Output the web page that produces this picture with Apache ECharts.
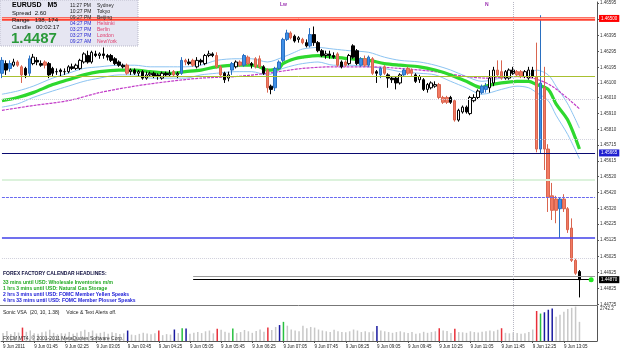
<!DOCTYPE html>
<html>
<head>
<meta charset="utf-8">
<script src="https://cdn.jsdelivr.net/npm/echarts@6.0.0/dist/echarts.min.js"></script>
<style>
  html, body { margin: 0; padding: 0; background: #fff; }
  #main { width: 625px; height: 352px; }
</style>
</head>
<body>
<div id="main"></div>
<script>
// EURUSD M5, 9 Jun 2011 - bar 0 = 01:05, one bar every 5 min
var opens = [
  1.4616,1.4622,1.4619,1.4621,1.4623,1.4620,1.4619,1.4616,1.4622,1.4624,
  1.4622,1.4623,1.4622,1.4619,1.4617,1.4618,1.4617,1.4617,1.4620,1.4619,
  1.4619,1.4623,1.4627,1.4623,1.4628,1.4627,1.4628,1.4627,1.4627,1.4625,
  1.4623,1.4621,1.4621,1.4617,1.4618,1.4616,1.4617,1.4613,1.4615,1.4616,
  1.4615,1.4613,1.4616,1.4615,1.4617,1.4615,1.4616,1.4624,1.4623,1.4624,
  1.4620,1.4624,1.4622,1.4627,1.4628,1.4627,1.4620,1.4616,1.4613,1.4618,
  1.4620,1.4623,1.4621,1.4626,1.4622,1.4625,1.4625,1.4620,1.4618,1.4608,
  1.4607,1.4619,1.4624,1.4637,1.4641,1.4639,1.4637,1.4637,1.4635,1.4633,
  1.4640,1.4635,1.4630,1.4627,1.4628,1.4627,1.4628,1.4623,1.4623,1.4622,
  1.4633,1.4630,1.4621,1.4625,1.4621,1.4625,1.4617,1.4615,1.4620,1.4615,
  1.4613,1.4613,1.4610,1.4615,1.4619,1.4618,1.4615,1.4612,1.4612,1.4606,
  1.4607,1.4608,1.4609,1.4601,1.4601,1.4601,1.4599,1.4587,1.4592,1.4595,
  1.4591,1.4599,1.4601,1.4604,1.4606,1.4607,1.4610,1.4618,1.4617,1.4613,
  1.4613,1.4618,1.4617,1.4617,1.4614,1.4613,1.4618,1.4614,1.4569,1.4607,
  1.4569,1.4540,1.4538,1.4532,1.4538,1.4532,1.4520,1.4500,1.4493
];
var highs = [
  1.4626,1.4624,1.4624,1.4625,1.4624,1.4621,1.4620,1.4627,1.4628,1.4626,
  1.4624,1.4624,1.4623,1.4620,1.4619,1.4619,1.4619,1.4621,1.4622,1.4622,
  1.4625,1.4629,1.4630,1.4630,1.4630,1.4629,1.4632,1.4628,1.4628,1.4626,
  1.4624,1.4622,1.4622,1.4619,1.4619,1.4618,1.4618,1.4617,1.4617,1.4617,
  1.4616,1.4617,1.4617,1.4618,1.4618,1.4617,1.4626,1.4625,1.4625,1.4625,
  1.4626,1.4625,1.4628,1.4630,1.4629,1.4629,1.4621,1.4617,1.4617,1.4623,
  1.4624,1.4624,1.4628,1.4627,1.4623,1.4626,1.4627,1.4621,1.4619,1.4609,
  1.4620,1.4624,1.4638,1.4643,1.4642,1.4640,1.4639,1.4638,1.4637,1.4644,
  1.4645,1.4636,1.4631,1.4630,1.4630,1.4629,1.4629,1.4624,1.4624,1.4628,
  1.4634,1.4631,1.4626,1.4627,1.4627,1.4626,1.4618,1.4620,1.4621,1.4616,
  1.4614,1.4614,1.4616,1.4619,1.4620,1.4619,1.4616,1.4615,1.4613,1.4610,
  1.4611,1.4611,1.4610,1.4602,1.4602,1.4602,1.4600,1.4594,1.4596,1.4596,
  1.4602,1.4603,1.4606,1.4609,1.4610,1.4618,1.4620,1.4624,1.4624,1.4618,
  1.4619,1.4620,1.4618,1.4618,1.4618,1.4620,1.4620,1.4635,1.4652,1.4620,
  1.4572,1.4548,1.4540,1.4539,1.4541,1.4533,1.4526,1.4501,1.4494
];
var lows = [
  1.4613,1.4615,1.4617,1.4620,1.4620,1.4610,1.4613,1.4614,1.4621,1.4621,
  1.4620,1.4619,1.4613,1.4614,1.4615,1.4614,1.4615,1.4616,1.4618,1.4618,
  1.4618,1.4622,1.4622,1.4622,1.4626,1.4625,1.4625,1.4624,1.4623,1.4621,
  1.4620,1.4619,1.4615,1.4615,1.4615,1.4614,1.4612,1.4612,1.4614,1.4613,
  1.4612,1.4612,1.4614,1.4614,1.4614,1.4613,1.4615,1.4621,1.4621,1.4620,
  1.4619,1.4621,1.4621,1.4626,1.4626,1.4619,1.4614,1.4610,1.4611,1.4615,
  1.4619,1.4620,1.4620,1.4621,1.4619,1.4619,1.4619,1.4615,1.4604,1.4603,
  1.4605,1.4618,1.4623,1.4636,1.4637,1.4635,1.4635,1.4634,1.4632,1.4632,
  1.4633,1.4629,1.4626,1.4625,1.4625,1.4625,1.4620,1.4619,1.4620,1.4621,
  1.4625,1.4621,1.4620,1.4620,1.4620,1.4615,1.4610,1.4613,1.4615,1.4607,
  1.4610,1.4606,1.4609,1.4614,1.4615,1.4614,1.4610,1.4610,1.4605,1.4604,
  1.4606,1.4607,1.4600,1.4597,1.4597,1.4597,1.4586,1.4586,1.4591,1.4591,
  1.4590,1.4598,1.4600,1.4603,1.4604,1.4604,1.4608,1.4614,1.4612,1.4612,
  1.4612,1.4615,1.4614,1.4613,1.4613,1.4612,1.4613,1.4567,1.4566,1.4556,
  1.4530,1.4525,1.4523,1.4514,1.4530,1.4517,1.4499,1.4491,1.4477
];
var closes = [
  1.4624,1.4618,1.4622,1.4623,1.4621,1.4615,1.4615,1.4625,1.4626,1.4623,
  1.4621,1.4621,1.4615,1.4616,1.4617,1.4617,1.4617,1.4620,1.4619,1.4621,
  1.4624,1.4628,1.4623,1.4629,1.4627,1.4628,1.4627,1.4626,1.4624,1.4622,
  1.4621,1.4620,1.4616,1.4618,1.4616,1.4617,1.4613,1.4615,1.4616,1.4614,
  1.4614,1.4616,1.4615,1.4616,1.4615,1.4616,1.4624,1.4623,1.4622,1.4621,
  1.4624,1.4623,1.4627,1.4628,1.4627,1.4620,1.4615,1.4612,1.4615,1.4622,
  1.4623,1.4621,1.4627,1.4622,1.4621,1.4620,1.4620,1.4616,1.4607,1.4606,
  1.4619,1.4623,1.4637,1.4641,1.4638,1.4636,1.4638,1.4635,1.4633,1.4640,
  1.4635,1.4630,1.4627,1.4628,1.4627,1.4626,1.4621,1.4620,1.4621,1.4627,
  1.4626,1.4622,1.4625,1.4621,1.4626,1.4616,1.4616,1.4619,1.4616,1.4613,
  1.4612,1.4610,1.4615,1.4618,1.4616,1.4616,1.4611,1.4614,1.4606,1.4609,
  1.4610,1.4609,1.4601,1.4598,1.4598,1.4598,1.4587,1.4593,1.4595,1.4592,
  1.4601,1.4601,1.4605,1.4608,1.4608,1.4613,1.4618,1.4615,1.4613,1.4617,
  1.4618,1.4616,1.4615,1.4614,1.4617,1.4618,1.4614,1.4569,1.4610,1.4569,
  1.4539,1.4531,1.4531,1.4538,1.4532,1.4519,1.4500,1.4492,1.4488
];
// VSA volume
var volumes = [
  620,780,540,700,660,1050,720,830,610,560,
  690,740,880,640,520,610,580,700,560,640,
  760,880,700,820,590,640,720,560,680,620,
  540,600,820,500,460,560,640,580,520,600,
  820,460,540,500,900,620,1000,980,560,640,
  700,620,760,820,600,950,880,720,640,980,
  620,700,860,760,640,780,900,720,1050,860,
  1100,1250,1500,1200,900,820,760,1200,1000,1100,
  1050,900,820,760,700,880,760,700,680,760,
  900,820,700,760,680,740,1170,820,760,700,
  640,700,760,680,620,700,560,600,720,640,
  700,760,1000,820,780,620,950,700,680,640,
  760,700,660,720,760,820,760,880,1000,640,
  600,680,620,560,600,700,900,2350,2150,2250,
  2450,2550,1900,2050,2300,2500,2600,2700,1500
];
// candle signal colouring
var blueCandles = [0,2,7,46,59,62,70,71,72,73,79,92,94,97,103,123,124,138,143];
var redCandles = [4,5,11,32,44,47,49,55,56,61,63,65,66,68,74,77,86,88,93,95,98,104,105,112,113,114,116,127,128,132,133,137,139,140,141,142,144,145,146,147];
// volume signal colouring
var redVol = [5,40,55,68,112,116,128,137];
var blueVol = [32,44,47,71,96,139,140,141];
var greenVol = [46,59,72,138];

// moving average + envelopes, [bar, price]
var maGreen = [[0,1.4599],[4,1.4601],[8,1.4604],[13,1.4609],[17,1.4612],[21,1.4615],[25,1.4617],[30,1.4618],[34,1.4618],[38,1.4617],[43,1.4616],[47,1.4617],[51,1.4618],[55,1.4620],[60,1.4621],[64,1.4621],[66,1.4620],[68,1.4618],[71,1.4619],[72,1.4622],[75,1.4625],[77,1.4626],[81,1.4627],[85,1.4626],[89,1.4625],[94,1.4624],[98,1.4622],[102,1.4621],[107,1.4620],[111,1.4618],[115,1.4615],[119,1.4611],[123,1.4607],[124,1.4608],[128,1.4610],[132,1.4611],[135,1.4611],[137,1.4609],[140,1.4606],[142,1.4597],[145,1.4587],[148,1.4569]];
var envUpper = [[0,1.4603],[4,1.4605],[8,1.4608],[13,1.4613],[17,1.4616],[21,1.4619],[25,1.4620],[30,1.4621],[34,1.4621],[38,1.4620],[43,1.4620],[47,1.4620],[51,1.4621],[55,1.4624],[60,1.4625],[64,1.4625],[68,1.4623],[72,1.4626],[75,1.4629],[77,1.4631],[81,1.4632],[85,1.4631],[89,1.4630],[94,1.4629],[98,1.4626],[102,1.4624],[107,1.4623],[111,1.4621],[115,1.4618],[119,1.4614],[123,1.4611],[128,1.4613],[132,1.4614],[135,1.4615],[137,1.4618],[140,1.4615],[142,1.4608],[145,1.4597],[148,1.4582]];
var envLower = [[0,1.4595],[4,1.4597],[8,1.4601],[13,1.4605],[17,1.4608],[21,1.4611],[25,1.4613],[30,1.4615],[34,1.4615],[38,1.4613],[43,1.4613],[47,1.4613],[51,1.4615],[55,1.4616],[60,1.4617],[64,1.4617],[68,1.4615],[72,1.4619],[75,1.4621],[77,1.4622],[81,1.4623],[85,1.4621],[89,1.4621],[94,1.4620],[98,1.4619],[102,1.4617],[107,1.4616],[111,1.4615],[115,1.4611],[119,1.4607],[123,1.4603],[128,1.4606],[132,1.4608],[135,1.4607],[137,1.4604],[140,1.4599],[142,1.4590],[145,1.4578],[148,1.4563]];
var maSlow = [[0,1.4593],[8,1.4596],[17,1.4599],[25,1.4604],[34,1.4608],[43,1.4611],[51,1.4613],[60,1.4614],[68,1.4616],[77,1.4619],[85,1.4620],[94,1.4620],[102,1.4619],[111,1.4617],[119,1.4614],[124,1.4613],[131,1.4614],[136,1.4613],[141,1.4608],[148,1.4594]];

var priceTicks = [1.46595,1.46495,1.46395,1.46295,1.46195,1.46100,1.46010,1.45910,1.45810,1.45715,1.45615,1.45520,1.45420,1.45320,1.45225,1.45125,1.45025,1.44925,1.44825,1.44725];
var timeLabels = ['9 Jun 2011','9 Jun 01:45','9 Jun 02:25','9 Jun 03:05','9 Jun 03:45','9 Jun 04:25','9 Jun 05:05','9 Jun 05:45','9 Jun 06:25','9 Jun 07:05','9 Jun 07:45','9 Jun 08:25','9 Jun 09:05','9 Jun 09:45','9 Jun 10:25','9 Jun 11:05','9 Jun 11:45','9 Jun 12:25','9 Jun 13:05'];

// levels drawn on the chart
var dayHigh = 1.4650, pivotLine = 1.4614, navyLine = 1.45666, bidPrice = 1.4488;
var dotLevels = [1.4600, 1.4575, 1.4501];
var greenLevel = 1.4550, blueDashed = 1.4539, blueSolid = 1.4514, grayLevel = 1.4490;
var sessionBar = '131';
var volMax = 2742.2;

var FONT = '"Liberation Sans", Arial, sans-serif';
var barCount = opens.length;
var lastCat = 152;
var cats = [];
for (var i = 0; i <= lastCat; i++) cats.push(String(i));

function inList(list, i) { return list.indexOf(i) >= 0; }

var candleData = opens.map(function (o, i) {
  var item = { value: [o, closes[i], lows[i], highs[i]] };
  if (inList(blueCandles, i)) {
    item.itemStyle = { color: '#3f8fe6', color0: '#3f8fe6', borderColor: '#2a6fc0', borderColor0: '#2a6fc0' };
  } else if (inList(redCandles, i)) {
    item.itemStyle = { color: '#f27a62', color0: '#f27a62', borderColor: '#d9654f', borderColor0: '#d9654f' };
  }
  return item;
});

var volData = volumes.map(function (v, i) {
  var c = '#c8c8c8';
  if (inList(redVol, i)) c = '#e8303a';
  else if (inList(blueVol, i)) c = '#1a1aa0';
  else if (inList(greenVol, i)) c = '#28c040';
  return { value: v, itemStyle: { color: c } };
});

var chart = echarts.init(document.getElementById('main'), null, { renderer: 'canvas' });

function tagLabel(txt, bg) {
  return { show: true, position: 'end', formatter: txt, backgroundColor: bg, color: '#fff',
    fontSize: 4.5, fontFamily: FONT, padding: [1, 2], distance: 4 };
}
// horizontal level across the whole price window
function level(v, style, label) {
  var a = { coord: [0, v], lineStyle: style };
  if (label) a.label = label;
  return [a, { coord: [lastCat, v] }];
}

var levelLines = [
  level(dayHigh, { color: '#ff4030', width: 3.5, type: 'solid' }),
  level(dayHigh, { color: '#ffb0a0', width: 1, type: 'solid' }, tagLabel('1.46500', '#ff0000')),
  level(pivotLine, { color: '#a8c030', width: 1, type: 'solid' }),
  level(dotLevels[0], { color: '#d0d0dc', width: 1, type: 'dotted' }),
  level(dotLevels[1], { color: '#d0d0dc', width: 1, type: 'dotted' }),
  level(dotLevels[2], { color: '#d0d0dc', width: 1, type: 'dotted' }),
  level(navyLine, { color: '#0a0a70', width: 1.2, type: 'solid' }, tagLabel('1.45665', '#2020d0')),
  level(greenLevel, { color: '#dcf2dc', width: 2, type: 'solid' }),
  level(blueDashed, { color: '#6a6af0', width: 1, type: [3, 1] }),
  level(blueSolid, { color: '#4040e8', width: 1.5, type: 'solid' }),
  level(bidPrice, { color: 'rgba(0,0,0,0)', width: 1 }, tagLabel('1.44870', '#000000')),
  [{ coord: [49, grayLevel], lineStyle: { color: '#9a9a9a', width: 1, type: 'solid' } }, { coord: [lastCat, grayLevel] }],
  [{ coord: [49, bidPrice], lineStyle: { color: '#000000', width: 1.2, type: 'solid' } }, { coord: [151, bidPrice] }],
  { xAxis: sessionBar, lineStyle: { color: '#b8b8c4', width: 1, type: 'dotted' } }
];

var option = {
  animation: false,
  backgroundColor: '#ffffff',
  grid: [
    { left: 0, right: 28, top: 2, height: 303 },
    { left: 0, right: 28, top: 306, height: 35 }
  ],
  xAxis: [
    { type: 'category', gridIndex: 0, data: cats, boundaryGap: true,
      axisLabel: { show: false }, axisTick: { show: false },
      axisLine: { show: true, lineStyle: { color: '#777', width: 1 } }, splitLine: { show: false } },
    { type: 'category', gridIndex: 1, data: cats, boundaryGap: true,
      axisLine: { show: true, lineStyle: { color: '#555', width: 1 } },
      axisTick: { show: true, length: 2, alignWithLabel: true, lineStyle: { color: '#555' },
        interval: function (idx) { return idx % 8 === 0 && idx < barCount; } },
      axisLabel: { show: true, fontSize: 4.5, fontFamily: FONT, color: '#222', align: 'left', margin: 3,
        interval: function (idx) { return idx % 8 === 0 && idx < barCount; },
        formatter: function (v, idx) { return timeLabels[idx / 8] || ''; } },
      splitLine: { show: false } }
  ],
  yAxis: [
    { type: 'value', gridIndex: 0, position: 'right', min: 1.44723, max: 1.46602,
      splitLine: { show: false },
      axisLine: { show: true, lineStyle: { color: '#555', width: 1 } },
      axisTick: { show: true, length: 2, customValues: priceTicks, lineStyle: { color: '#555' } },
      axisLabel: { customValues: priceTicks, fontSize: 4.5, fontFamily: FONT, color: '#333', margin: 3,
        formatter: function (v) { return v.toFixed(5); } } },
    { type: 'value', gridIndex: 1, position: 'right', min: 0, max: volMax,
      splitLine: { show: false },
      axisLine: { show: true, lineStyle: { color: '#555', width: 1 } },
      axisTick: { show: false },
      axisLabel: { customValues: [volMax], fontSize: 4.5, fontFamily: FONT, color: '#333', margin: 3,
        verticalAlign: 'top', formatter: function (v) { return v.toFixed(1); } } }
  ],
  series: [
    { type: 'line', xAxisIndex: 0, yAxisIndex: 0, data: envUpper, symbol: 'none', smooth: 0.3,
      lineStyle: { color: '#8cc4f2', width: 1 }, z: 2 },
    { type: 'line', xAxisIndex: 0, yAxisIndex: 0, data: envLower, symbol: 'none', smooth: 0.3,
      lineStyle: { color: '#8cc4f2', width: 1 }, z: 2 },
    { type: 'line', xAxisIndex: 0, yAxisIndex: 0, data: maSlow, symbol: 'none', smooth: 0.3,
      lineStyle: { color: '#c23cc8', width: 1.2, type: [3, 1] }, z: 2,
      markLine: { silent: true, symbol: ['none', 'none'], animation: false, label: { show: false }, data: levelLines },
      markPoint: { silent: true, animation: false, label: { show: false },
        data: [{ coord: [151, bidPrice], symbol: 'circle', symbolSize: 5, itemStyle: { color: '#22e622' } }] } },
    { type: 'line', xAxisIndex: 0, yAxisIndex: 0, data: maGreen, symbol: 'none', smooth: 0.3,
      lineStyle: { color: '#2ed82e', width: 3.2 }, z: 3 },
    { type: 'candlestick', xAxisIndex: 0, yAxisIndex: 0, data: candleData, barWidth: 3, z: 4,
      itemStyle: { color: '#ffffff', color0: '#000000', borderColor: '#000000', borderColor0: '#000000', borderWidth: 1 } },
    { type: 'bar', xAxisIndex: 1, yAxisIndex: 1, data: volData, barWidth: 1.5,
      markLine: { silent: true, symbol: ['none', 'none'], animation: false, label: { show: false },
        data: [{ xAxis: sessionBar, lineStyle: { color: '#b8b8c4', width: 1, type: 'dotted' } }] } }
  ],
  graphic: [
    // info panel
    { type: 'rect', shape: { x: 0, y: 0, width: 138, height: 46 }, z: 1,
      style: { fill: '#e6e6f2', stroke: '#b8b8c8', lineDash: [1, 1], lineWidth: 1 } },
    { type: 'text', x: 12, y: 2, z: 10, style: { text: 'EURUSD   M5', fill: '#000', font: 'bold 7px ' + FONT } },
    { type: 'text', x: 12, y: 10, z: 10, style: { text: 'Spread  2.60', fill: '#111', font: '6px ' + FONT } },
    { type: 'text', x: 12, y: 17, z: 10, style: { text: 'Range   138, 174', fill: '#111', font: '6px ' + FONT } },
    { type: 'text', x: 12, y: 24, z: 10, style: { text: 'Candle   00:02:17', fill: '#111', font: '6px ' + FONT } },
    { type: 'text', x: 11, y: 31, z: 10, style: { text: '1.4487', fill: '#2a9a3a', font: 'bold 15px ' + FONT } },
    { type: 'text', x: 70, y: 3, z: 10, style: { text: '11:27 PM', fill: '#222', font: '5px ' + FONT } },
    { type: 'text', x: 97, y: 3, z: 10, style: { text: 'Sydney', fill: '#222', font: '5px ' + FONT } },
    { type: 'text', x: 70, y: 9, z: 10, style: { text: '10:27 PM', fill: '#222', font: '5px ' + FONT } },
    { type: 'text', x: 97, y: 9, z: 10, style: { text: 'Tokyo', fill: '#222', font: '5px ' + FONT } },
    { type: 'text', x: 70, y: 15, z: 10, style: { text: '09:27 PM', fill: '#222', font: '5px ' + FONT } },
    { type: 'text', x: 97, y: 15, z: 10, style: { text: 'Beijing', fill: '#222', font: '5px ' + FONT } },
    { type: 'text', x: 70, y: 21, z: 10, style: { text: '04:27 PM', fill: '#2a2ad0', font: '5px ' + FONT } },
    { type: 'text', x: 97, y: 21, z: 10, style: { text: 'Helsinki', fill: '#e03a6a', font: '5px ' + FONT } },
    { type: 'text', x: 70, y: 27, z: 10, style: { text: '03:27 PM', fill: '#2a2ad0', font: '5px ' + FONT } },
    { type: 'text', x: 97, y: 27, z: 10, style: { text: 'Berlin', fill: '#e03a6a', font: '5px ' + FONT } },
    { type: 'text', x: 70, y: 33, z: 10, style: { text: '03:27 PM', fill: '#2a2ad0', font: '5px ' + FONT } },
    { type: 'text', x: 97, y: 33, z: 10, style: { text: 'London', fill: '#e03a6a', font: '5px ' + FONT } },
    { type: 'text', x: 70, y: 39, z: 10, style: { text: '09:27 AM', fill: '#2a2ad0', font: '5px ' + FONT } },
    { type: 'text', x: 97, y: 39, z: 10, style: { text: 'NewYork', fill: '#e03a6a', font: '5px ' + FONT } },
    // session markers
    { type: 'text', x: 280, y: 2, z: 10, style: { text: 'Lw', fill: '#9a30b0', font: 'bold 5px ' + FONT } },
    { type: 'text', x: 485, y: 2, z: 10, style: { text: 'N', fill: '#9a30b0', font: 'bold 5px ' + FONT } },
    // calendar headlines
    { type: 'text', x: 3, y: 271, z: 10, style: { text: 'FOREX FACTORY CALENDAR HEADLINES:', fill: '#101040', font: 'bold 5px ' + FONT } },
    { type: 'text', x: 3, y: 280, z: 10, style: { text: '33 mins until USD: Wholesale Inventories m/m', fill: '#22aa22', font: 'bold 5px ' + FONT } },
    { type: 'text', x: 3, y: 286, z: 10, style: { text: '1 hrs 3 mins until USD: Natural Gas Storage', fill: '#22aa22', font: 'bold 5px ' + FONT } },
    { type: 'text', x: 3, y: 292, z: 10, style: { text: '2 hrs 3 mins until USD: FOMC Member Yellen Speaks', fill: '#2020d8', font: 'bold 5px ' + FONT } },
    { type: 'text', x: 3, y: 298, z: 10, style: { text: '4 hrs 33 mins until USD: FOMC Member Plosser Speaks', fill: '#2020d8', font: 'bold 5px ' + FONT } },
    // indicator window texts
    { type: 'text', x: 3, y: 310, z: 10, style: { text: 'Sonic VSA  (20, 10, 1.38)     Voice & Text Alerts off.', fill: '#222', font: '5px ' + FONT } },
    { type: 'text', x: 3, y: 336, z: 10, style: { text: 'FXCM MT4, \u00a9 2001-2011 MetaQuotes Software Corp.', fill: '#333', font: '5px ' + FONT } }
  ]
};

chart.setOption(option);
</script>
</body>
</html>
